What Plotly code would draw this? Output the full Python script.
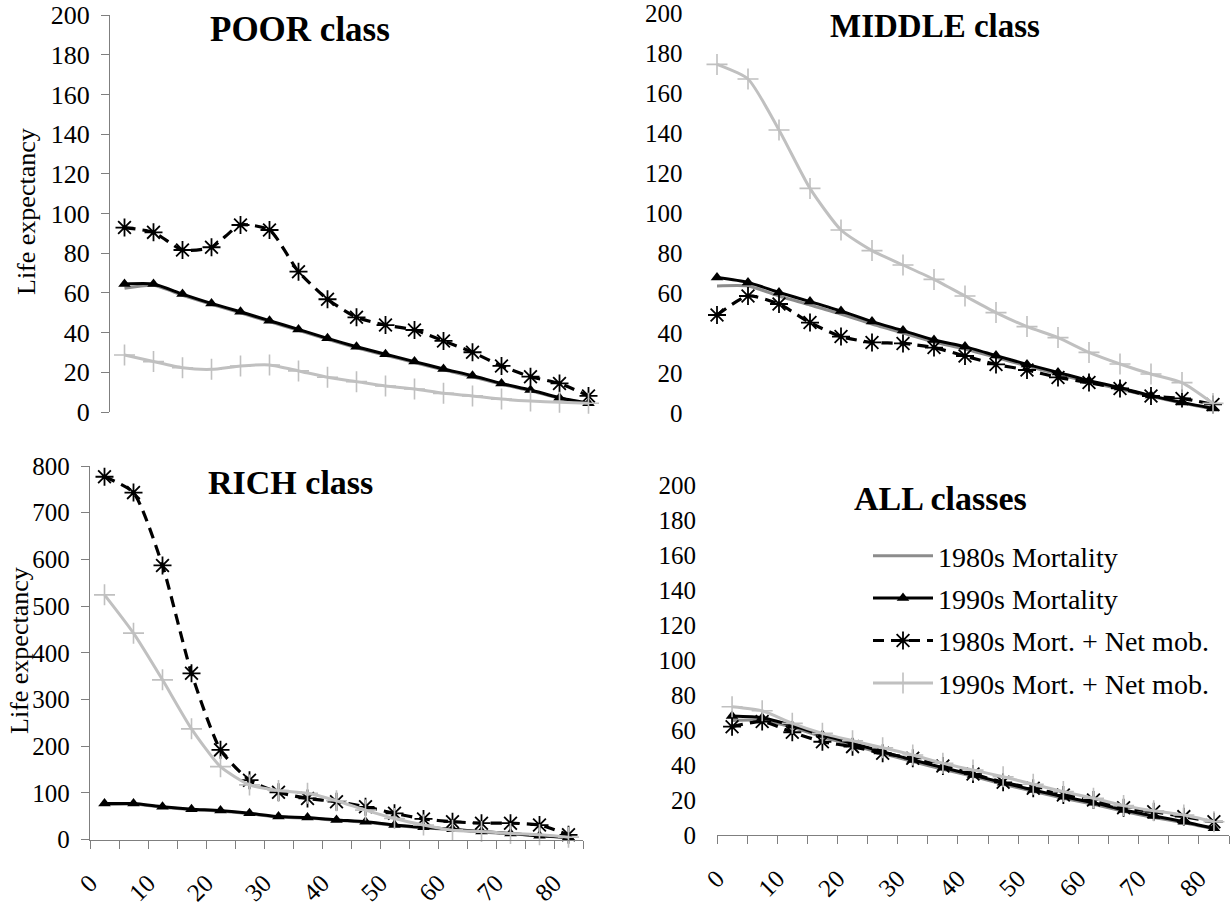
import plotly.graph_objects as go

W, H = 1231, 905

AGES = [2.5, 7.5, 12.5, 17.5, 22.5, 27.5, 32.5, 37.5, 42.5, 47.5,
        52.5, 57.5, 62.5, 67.5, 72.5, 77.5, 82.5]
SERIES = ["1980s Mortality", "1990s Mortality",
          "1980s Mort. + Net mob.", "1990s Mort. + Net mob."]
X_TICKS = [0, 5, 10, 15, 20, 25, 30, 35, 40, 45, 50, 55, 60, 65, 70, 75, 80, 85]
X_LABELS = ["0", "", "10", "", "20", "", "30", "", "40", "", "50", "", "60", "", "70", "", "80", ""]

# POOR class
POOR_M80 = [62.3, 63.8, 58.8, 54.2, 50.0, 45.5, 41.1, 36.6, 32.4, 28.6, 24.9, 21.2, 17.8, 14.0, 10.7, 6.9, 4.2]
POOR_M90 = [64.5, 64.5, 59.4, 54.7, 50.5, 46.0, 41.6, 37.1, 32.9, 29.1, 25.4, 21.7, 18.3, 14.4, 11.1, 7.2, 4.4]
POOR_N80 = [92.9, 90.5, 81.6, 83.0, 94.2, 91.7, 70.7, 56.8, 47.7, 43.8, 41.3, 35.8, 30.1, 23.2, 17.8, 14.4, 8.1]
POOR_N90 = [28.7, 25.4, 22.3, 21.5, 23.2, 23.7, 20.7, 17.5, 15.3, 13.1, 11.6, 9.4, 8.1, 6.5, 5.5, 4.9, 4.4]

# MIDDLE class
MID_M80 = [63.5, 63.5, 58.5, 54.0, 49.5, 44.5, 40.0, 35.5, 32.0, 27.8, 23.5, 19.5, 15.5, 12.0, 8.3, 5.0, 2.0]
MID_M90 = [67.7, 65.3, 60.3, 55.7, 51.0, 45.7, 41.2, 36.5, 33.2, 28.7, 24.3, 20.3, 16.2, 12.7, 8.7, 5.3, 2.3]
MID_N80 = [49.0, 58.5, 54.5, 45.2, 38.2, 35.3, 34.8, 32.7, 28.5, 24.3, 21.5, 17.8, 15.2, 12.3, 8.5, 7.3, 4.3]
MID_N90 = [174.3, 167.0, 141.5, 112.3, 91.5, 81.2, 74.0, 66.8, 58.5, 50.2, 43.2, 37.7, 30.3, 24.5, 19.5, 15.2, 4.8]

# RICH class
RICH_M80 = [75, 76, 69, 64, 61, 55, 48, 46, 41, 37, 30, 25, 21, 16, 12, 8, 4]
RICH_M90 = [77, 77, 70, 65, 62, 56, 49, 47, 42, 38, 31, 26, 22, 17, 13, 8, 5]
RICH_N80 = [777, 743, 587, 356, 192, 127, 101, 88, 81, 70, 56, 44, 38, 35, 35, 31, 10]
RICH_N90 = [524, 442, 342, 237, 156, 117, 105, 99, 83, 63, 45, 31, 20, 17, 13, 10, 5]

# ALL classes
ALL_M80 = [65.5, 65.5, 61.5, 56.0, 51.5, 46.5, 42.0, 37.5, 33.5, 29.0, 25.0, 21.0, 17.5, 13.5, 10.0, 7.0, 3.5]
ALL_M90 = [68.0, 67.0, 62.5, 57.1, 52.4, 47.6, 42.9, 38.5, 34.3, 29.9, 25.7, 21.9, 18.5, 14.3, 10.9, 7.6, 3.8]
ALL_N80 = [61.9, 64.8, 58.7, 53.3, 50.5, 46.7, 43.8, 39.4, 34.9, 30.1, 26.7, 22.9, 20.0, 15.6, 13.3, 10.5, 7.6]
ALL_N90 = [73.3, 71.0, 63.8, 58.1, 53.9, 49.9, 45.7, 41.0, 37.1, 33.3, 29.0, 24.8, 21.0, 16.8, 13.9, 11.4, 7.6]

PANEL_TITLES = ["POOR class", "MIDDLE class", "RICH class", "ALL classes"]
Y_LABEL = "Life expectancy"

FONT = "Liberation Serif, Times New Roman, serif"


def xd(a, b):
    return [a / W, b / W]


def yd(top, bottom):
    return [1 - bottom / H, 1 - top / H]


panels = [
    dict(data=[POOR_M80, POOR_M90, POOR_N80, POOR_N90], ax="", xdom=xd(110, 603), ydom=yd(15, 412),
         yr=[0, 200], dt=20, yline=True, xline=False, fs=26, ystand=6),
    dict(data=[MID_M80, MID_M90, MID_N80, MID_N90], ax="2", xdom=xd(701.5, 1228.5), ydom=yd(13, 413),
         yr=[0, 200], dt=20, yline=False, xline=False, fs=25, ystand=18),
    dict(data=[RICH_M80, RICH_M90, RICH_N80, RICH_N90], ax="3", xdom=xd(90, 583), ydom=yd(466, 839.5),
         yr=[0, 800], dt=100, yline=True, xline=True, fs=25, ystand=6),
    dict(data=[ALL_M80, ALL_M90, ALL_N80, ALL_N90], ax="4", xdom=xd(717, 1229), ydom=yd(485, 835),
         yr=[0, 200], dt=20, yline=False, xline=True, fs=25, ystand=20),
]

styles = [
    dict(line=dict(color="#8c8c8c", width=3), mode="lines", marker=None),
    dict(line=dict(color="black", width=3), mode="lines+markers",
         marker=dict(symbol="triangle-up", size=11, color="black")),
    dict(line=dict(color="black", width=3.2, dash="11px,7px"), mode="lines+markers",
         marker=dict(symbol="asterisk-open", size=15, color="black", line=dict(color="black", width=1.8))),
    dict(line=dict(color="#c0c0c0", width=3), mode="lines+markers",
         marker=dict(symbol="cross-thin-open", size=15, color="#c0c0c0", line=dict(color="#c0c0c0", width=1.6))),
]

fig = go.Figure()
layout = {}
for pi, p in enumerate(panels):
    ax = p["ax"]
    for si, (name, vals) in enumerate(zip(SERIES, p["data"])):
        st = styles[si]
        kw = dict(x=AGES, y=vals, name=name, mode=st["mode"],
                  line=dict(shape="spline", smoothing=0.6, **st["line"]),
                  xaxis="x" + ax, yaxis="y" + ax,
                  showlegend=(pi == 3), legendgroup=name, cliponaxis=False)
        if st["marker"] is not None:
            kw["marker"] = st["marker"]
        fig.add_trace(go.Scatter(**kw))
    xa = dict(domain=p["xdom"], range=[0, 85], anchor="y" + ax, showgrid=False, zeroline=False,
              fixedrange=True, automargin=False)
    if p["xline"]:
        xa.update(showline=True, linecolor="#7f7f7f", linewidth=1.3, ticks="outside", ticklen=8,
                  tickcolor="#7f7f7f", tickwidth=1.3, tickvals=X_TICKS, ticktext=X_LABELS,
                  tickangle=-45, ticklabelstandoff=10, ticklabeloverflow="allow",
                  tickfont=dict(family=FONT, size=25, color="black"))
    else:
        xa.update(showline=False, showticklabels=False, ticks="")
    ya = dict(domain=p["ydom"], range=p["yr"], dtick=p["dt"], tick0=0, anchor="x" + ax,
              showgrid=False, zeroline=False, fixedrange=True, automargin=False,
              tickfont=dict(family=FONT, size=p["fs"], color="black"),
              ticklabelstandoff=p["ystand"], ticklabeloverflow="allow")
    if p["yline"]:
        ya.update(showline=True, linecolor="#7f7f7f", linewidth=1.3, ticks="outside", ticklen=8,
                  tickcolor="#7f7f7f", tickwidth=1.3)
    else:
        ya.update(showline=False, ticks="")
    layout["xaxis" + ax] = xa
    layout["yaxis" + ax] = ya

fig.update_layout(template="none")
fig.update_layout(**layout)

annotations = []
title_pos = [(300, 29, 35), (935, 26, 33), (290, 482, 34), (940, 498, 34)]
for t, (cx, cy, fs) in zip(PANEL_TITLES, title_pos):
    annotations.append(dict(text="<b>" + t + "</b>", x=cx / W, y=1 - cy / H, xref="paper", yref="paper",
                            xanchor="center", yanchor="middle", showarrow=False,
                            font=dict(family=FONT, size=fs, color="black")))
for cx, cy in [(26, 212), (19, 651)]:
    annotations.append(dict(text=Y_LABEL, x=cx / W, y=1 - cy / H, xref="paper", yref="paper",
                            xanchor="center", yanchor="middle", showarrow=False, textangle=-90,
                            font=dict(family=FONT, size=26, color="black")))

fig.update_layout(
    width=W, height=H,
    margin=dict(l=0, r=0, t=0, b=0, autoexpand=False),
    paper_bgcolor="white", plot_bgcolor="white",
    font=dict(family=FONT, size=24, color="black"),
    annotations=annotations,
    legend=dict(x=868 / W, y=1 - 531 / H, xanchor="left", yanchor="top",
                bgcolor="rgba(0,0,0,0)", font=dict(family=FONT, size=28, color="black"),
                itemwidth=60, tracegroupgap=3, traceorder="grouped"),
)

fig.write_html("out.html")
